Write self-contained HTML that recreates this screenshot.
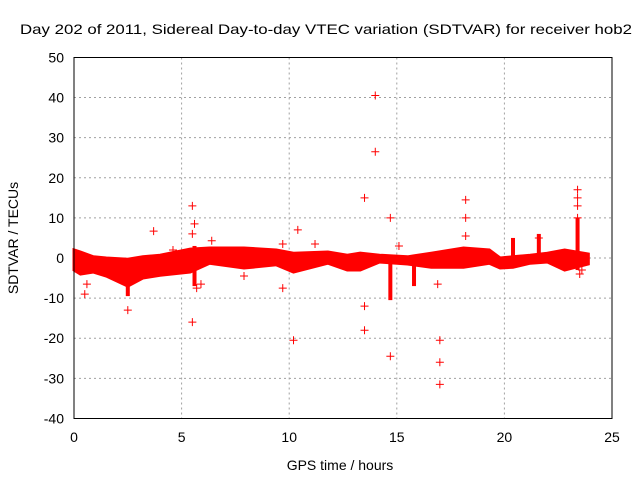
<!DOCTYPE html>
<html><head><meta charset="utf-8"><style>
body{margin:0;background:#fff}
svg text{font-family:"Liberation Sans",sans-serif;font-size:14px;fill:#000}
</style></head><body>
<svg id="c" width="640" height="480">
<text x="326" y="34" text-anchor="middle" textLength="612" lengthAdjust="spacingAndGlyphs">Day 202 of 2011, Sidereal Day-to-day VTEC variation (SDTVAR) for receiver hob2</text>
<text x="340" y="470" text-anchor="middle">GPS time / hours</text>
<text transform="translate(18,238) rotate(-90)" text-anchor="middle">SDTVAR / TECUs</text>
<g id="grid"></g><g id="ticks"></g><g id="marks"></g>
<rect x="74" y="57.5" width="538" height="361" fill="none" stroke="#000"/>
</svg>
<script>
const xTicks=[0,5,10,15,20,25];
const yTicks=[-40,-30,-20,-10,0,10,20,30,40,50];
const bandHours=[0,0.3,0.9,1.5,2.5,3.2,4,5.4,6.3,7.9,9.4,10.2,11.8,12.7,13.3,14.2,15.5,16.6,18.1,19.3,19.8,20.4,21.2,22,22.8,23.9];
const bandUpper=[2,1.5,0.3,0,-0.3,0.3,0.7,2.2,2.5,2.5,2,1.2,1.5,0.7,1.2,0.7,0.3,1.2,2.5,2,0,0.3,0.7,1.2,2,1];
const bandLower=[-3,-4,-3.5,-4.5,-7,-5,-4.3,-3.5,-1.3,-2.5,-1.7,-3.5,-1.3,-3,-3,-1,-1.5,-2.3,-2.3,-1.3,-2.5,-2.3,-1.3,-1,-3,-1.5];
const spikeHours=[0.3,2.5,5.6,14.7,15.8,20.4,21.6,23.4];
const spikeMin=[-3.5,-9.5,-7,-10.5,-7,-1,-1,-3];
const spikeMax=[1,-3,3,-1,-1,5,6,10];
const ptHours=[0.5,0.6,2.5,3.7,4.6,5.5,5.5,5.6,5.5,6.4,7.9,9.7,9.7,10.2,10.4,11.2,13.5,13.5,13.5,14.0,14.0,14.7,14.7,15.1,16.9,17.0,17.0,17.0,18.2,18.2,18.2,23.4,23.4,23.4,23.4,23.5,23.6,21.6,5.9,5.7];
const ptValues=[-9,-6.5,-13,6.7,2,13,-16,8.5,6,4.3,-4.5,3.5,-7.5,-20.5,7,3.5,15,-12,-18,40.5,26.5,10,-24.5,3,-6.5,-20.5,-26,-31.5,14.5,10,5.5,17,15,13,10,-4,-3,5,-6.5,-7.5];
const X=h=>74+h*538/25, Y=v=>258-v*361/90;
const NS="http://www.w3.org/2000/svg";
function mk(t,a,p){const e=document.createElementNS(NS,t);for(const k in a)e.setAttribute(k,a[k]);p.appendChild(e);return e;}
const g=document.getElementById('grid'),tk=document.getElementById('ticks'),m=document.getElementById('marks');
xTicks.forEach(t=>{
 if(t>0&&t<25){const l=mk('line',{x1:X(t),x2:X(t),y1:57.5,y2:418.5,stroke:'#a0a0a0','stroke-dasharray':'2,3'},g);
 }
 const s=mk('text',{x:X(t),y:442,'text-anchor':'middle'},tk);s.textContent=t;
 
});
yTicks.forEach(t=>{
 if(t>-40&&t<50){const l=mk('line',{x1:74,x2:612,y1:Y(t),y2:Y(t),stroke:'#a0a0a0','stroke-dasharray':'2,3'},g);
 }
 const s=mk('text',{x:64,y:Y(t)+5,'text-anchor':'end'},tk);s.textContent=t;
 
});
let pts=bandHours.map((h,i)=>X(h)+','+Y(bandUpper[i]));
for(let i=bandHours.length-1;i>=0;i--)pts.push(X(bandHours[i])+','+Y(bandLower[i]));
const band=mk('polygon',{points:pts.join(' '),fill:'#f00',stroke:'#f00','stroke-width':3},m);

spikeHours.forEach((h,i)=>{
 const r=mk('rect',{x:X(h)-2,y:Y(spikeMax[i]),width:4,height:Y(spikeMin[i])-Y(spikeMax[i]),fill:'#f00'},m);
 
});
ptHours.forEach((h,i)=>{
 const x=X(h),y=Y(ptValues[i]);
 const p=mk('path',{d:`M${x-4},${y}H${x+4}M${x},${y-4}V${y+4}`,stroke:'#f00','stroke-width':1},m);
 
});
</script>
</body></html>
